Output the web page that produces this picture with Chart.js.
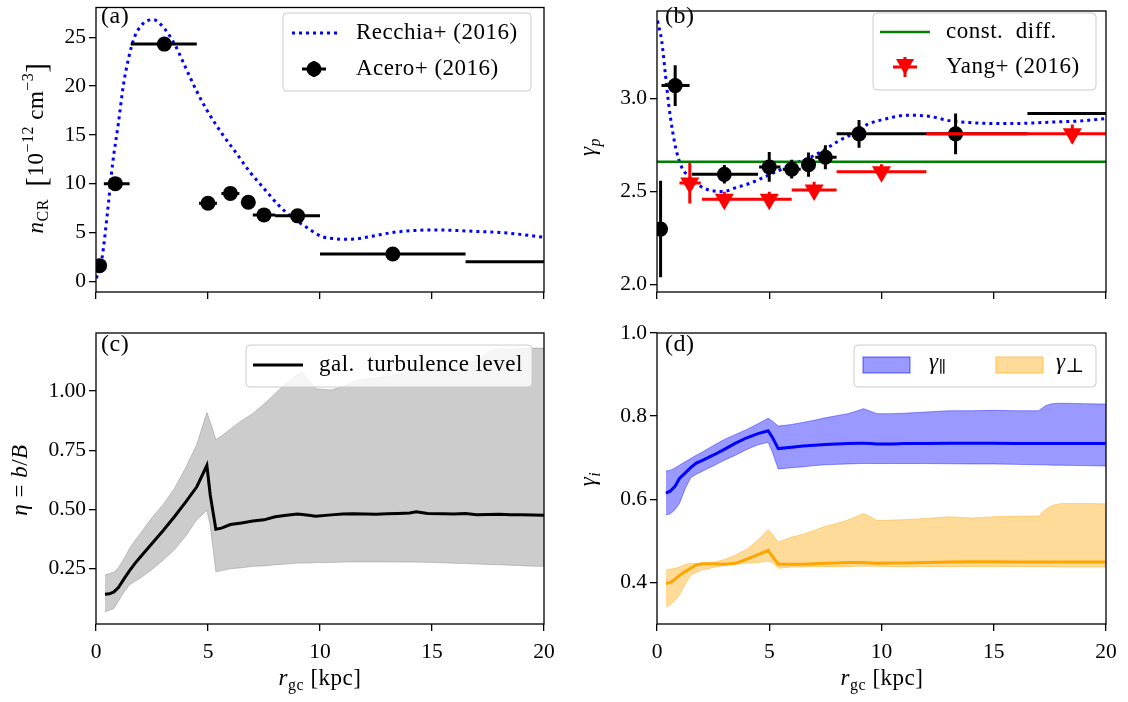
<!DOCTYPE html>
<html>
<head>
<meta charset="utf-8">
<title>CR density, spectral index and turbulence level</title>
<script src="https://cdn.jsdelivr.net/npm/chart.js@4.4.1/dist/chart.umd.min.js"></script>
<style>
  html, body { margin: 0; padding: 0; background: #fff; }
  #page { position: relative; width: 1128px; height: 702px; overflow: hidden; }
  #page canvas { position: absolute; }
</style>
</head>
<body>
<div id="page">
  <canvas id="panelA" width="564" height="320" style="left:0;top:0;width:564px;height:320px"></canvas>
  <canvas id="panelB" width="564" height="320" style="left:564px;top:0;width:564px;height:320px"></canvas>
  <canvas id="panelC" width="564" height="382" style="left:0;top:320px;width:564px;height:382px"></canvas>
  <canvas id="panelD" width="564" height="382" style="left:564px;top:320px;width:564px;height:382px"></canvas>
</div>
<script>
// ---- values ----
const xTicks = [0, 5, 10, 15, 20];

// (a) CR density [1e-12 cm^-3]
const recchiaR = [0.02, 0.27, 0.5, 0.75, 1.0, 1.23, 1.46, 1.7, 2.1, 2.55, 3.05, 3.53, 4.0, 4.49, 4.96, 5.6, 6.24, 6.87, 7.5, 8.15, 8.78, 9.42, 10.06, 10.7, 11.33, 12.3, 13.24, 14.2, 15.15, 16.1, 17.06, 18.0, 18.97, 20.0];
const recchiaN = [0.3, 2.4, 6.8, 12.2, 16.2, 20.2, 22.9, 24.9, 26.4, 26.8, 25.9, 24.2, 21.9, 19.5, 17.5, 15.2, 13.2, 11.2, 9.5, 7.8, 6.5, 5.5, 4.6, 4.35, 4.3, 4.6, 5.0, 5.2, 5.26, 5.2, 5.1, 5.0, 4.8, 4.5];
const aceroR = [0.16, 0.86, 3.05, 5.0, 6.0, 6.8, 7.5, 9.0, 13.25, 22.0];
const aceroN = [1.6, 10.0, 24.3, 8.0, 9.0, 8.1, 6.8, 6.7, 2.8, 2.0];
const aceroRlo = [0.0, 0.35, 1.55, 4.6, 5.6, 6.6, 7.0, 8.0, 10.0, 16.5];
const aceroRhi = [0.3, 1.5, 4.5, 5.4, 6.4, 7.0, 8.0, 10.0, 16.5, 27.5];
const aceroNerr = [0.3, 0.4, 0.6, 0.3, 0.3, 0.3, 0.3, 0.3, 0.2, 0.2];
const ticksA = [0, 5, 10, 15, 20, 25];

// (b) proton spectral index
const recchiaGR = [0.02, 0.21, 0.37, 0.53, 0.7, 0.86, 1.1, 1.42, 1.9, 2.4, 2.96, 3.5, 4.17, 4.82, 5.47, 6.1, 6.76, 7.4, 8.06, 8.7, 9.35, 10.16, 11.13, 12.1, 13.07, 14.05, 15.0, 15.99, 16.96, 17.9, 18.9, 20.0];
const recchiaG = [3.42, 3.31, 3.135, 2.96, 2.82, 2.72, 2.63, 2.58, 2.53, 2.505, 2.50, 2.52, 2.545, 2.58, 2.615, 2.65, 2.68, 2.72, 2.77, 2.81, 2.86, 2.89, 2.91, 2.905, 2.88, 2.87, 2.866, 2.866, 2.87, 2.875, 2.88, 2.893];
const aceroGR = [0.16, 0.81, 3.0, 5.0, 6.0, 6.75, 7.5, 9.0, 13.3, 22.0];
const aceroG = [2.297, 3.07, 2.592, 2.632, 2.62, 2.644, 2.684, 2.81, 2.81, 2.92];
const aceroGRlo = [0.0, 0.2, 1.55, 4.55, 5.6, 6.45, 7.05, 8.0, 10.0, 16.5];
const aceroGRhi = [0.3, 1.45, 4.5, 5.5, 6.4, 7.0, 8.0, 10.0, 16.5, 27.5];
const aceroGerr = [0.26, 0.11, 0.05, 0.08, 0.05, 0.065, 0.065, 0.075, 0.11, 0.05];
const yangR = [1.46, 3.0, 5.0, 7.0, 10.0, 18.5];
const yangG = [2.545, 2.458, 2.458, 2.507, 2.606, 2.81];
const yangRlo = [1.0, 2.0, 4.0, 6.0, 8.0, 12.0];
const yangRhi = [1.95, 4.0, 6.0, 8.0, 12.0, 25.0];
const yangGerr = [0.11, 0.04, 0.04, 0.045, 0.04, 0.05];
const constDiff = 2.66;
const ticksB = [2.0, 2.5, 3.0];

// (c) turbulence level eta = b/B
const etaR = [0.4, 0.6, 0.8, 1.0, 1.25, 1.5, 1.75, 2.0, 2.5, 3.0, 3.5, 4.0, 4.5, 4.95, 5.1, 5.35, 5.6, 6.0, 6.5, 7.0, 7.5, 8.0, 8.5, 9.0, 9.2, 9.5, 9.8, 10.5, 11.0, 11.5, 12.0, 12.5, 13.0, 13.5, 14.0, 14.3, 14.8, 15.5, 16.0, 16.5, 17.0, 17.5, 18.0, 18.5, 19.0, 19.5, 20.0];
const etaMean = [0.140, 0.142, 0.150, 0.168, 0.205, 0.240, 0.272, 0.300, 0.355, 0.410, 0.468, 0.530, 0.595, 0.685, 0.560, 0.415, 0.420, 0.435, 0.442, 0.450, 0.455, 0.468, 0.474, 0.480, 0.478, 0.474, 0.470, 0.476, 0.480, 0.481, 0.480, 0.479, 0.481, 0.482, 0.484, 0.489, 0.482, 0.481, 0.480, 0.482, 0.477, 0.478, 0.479, 0.477, 0.477, 0.475, 0.474];
const etaHi = [0.220, 0.228, 0.234, 0.252, 0.290, 0.335, 0.369, 0.400, 0.465, 0.520, 0.588, 0.675, 0.775, 0.910, 0.870, 0.795, 0.810, 0.840, 0.875, 0.905, 0.945, 0.990, 1.035, 1.070, 1.082, 1.045, 1.010, 1.005, 1.018, 1.040, 1.050, 1.055, 1.062, 1.070, 1.080, 1.085, 1.095, 1.100, 1.108, 1.118, 1.130, 1.165, 1.180, 1.176, 1.180, 1.182, 1.182];
const etaLo = [0.066, 0.072, 0.080, 0.110, 0.150, 0.180, 0.195, 0.210, 0.245, 0.285, 0.328, 0.385, 0.455, 0.495, 0.430, 0.235, 0.240, 0.248, 0.252, 0.258, 0.260, 0.265, 0.268, 0.272, 0.272, 0.272, 0.274, 0.274, 0.276, 0.277, 0.277, 0.277, 0.277, 0.276, 0.276, 0.276, 0.275, 0.273, 0.271, 0.270, 0.268, 0.266, 0.265, 0.263, 0.261, 0.259, 0.258];
const ticksC = [0.25, 0.5, 0.75, 1.0];

// (d) gamma_parallel / gamma_perp
const gamR = [0.4, 0.6, 0.8, 1.0, 1.25, 1.5, 1.75, 2.0, 2.5, 3.0, 3.5, 4.0, 4.5, 4.95, 5.15, 5.4, 6.0, 6.5, 7.0, 7.5, 8.0, 8.5, 9.0, 9.2, 9.5, 9.8, 10.5, 11.0, 12.0, 13.0, 14.0, 15.0, 16.0, 17.0, 17.3, 17.6, 18.0, 19.0, 20.0];
const parMean = [0.615, 0.620, 0.631, 0.650, 0.663, 0.676, 0.687, 0.693, 0.706, 0.720, 0.735, 0.748, 0.758, 0.765, 0.748, 0.722, 0.725, 0.728, 0.730, 0.732, 0.733, 0.734, 0.735, 0.735, 0.734, 0.733, 0.733, 0.734, 0.734, 0.735, 0.735, 0.735, 0.734, 0.734, 0.734, 0.734, 0.734, 0.734, 0.734];
const parHi = [0.668, 0.670, 0.675, 0.682, 0.690, 0.698, 0.706, 0.713, 0.729, 0.744, 0.756, 0.768, 0.782, 0.795, 0.788, 0.776, 0.780, 0.785, 0.790, 0.796, 0.801, 0.806, 0.814, 0.818, 0.812, 0.806, 0.806, 0.807, 0.810, 0.813, 0.813, 0.814, 0.813, 0.813, 0.825, 0.830, 0.831, 0.830, 0.829];
const parLo = [0.563, 0.565, 0.575, 0.590, 0.625, 0.652, 0.660, 0.667, 0.680, 0.694, 0.706, 0.720, 0.731, 0.737, 0.712, 0.673, 0.676, 0.678, 0.681, 0.683, 0.684, 0.685, 0.686, 0.686, 0.686, 0.686, 0.686, 0.686, 0.686, 0.6855, 0.685, 0.685, 0.684, 0.683, 0.683, 0.682, 0.682, 0.681, 0.680];
const perpMean = [0.397, 0.400, 0.408, 0.417, 0.426, 0.434, 0.442, 0.445, 0.445, 0.444, 0.446, 0.456, 0.467, 0.477, 0.462, 0.444, 0.444, 0.444, 0.445, 0.446, 0.447, 0.448, 0.448, 0.448, 0.447, 0.446, 0.447, 0.447, 0.448, 0.449, 0.450, 0.450, 0.449, 0.449, 0.449, 0.449, 0.449, 0.449, 0.449];
const perpHi = [0.430, 0.432, 0.434, 0.437, 0.443, 0.446, 0.446, 0.446, 0.448, 0.455, 0.466, 0.480, 0.502, 0.527, 0.515, 0.497, 0.509, 0.516, 0.525, 0.535, 0.542, 0.550, 0.561, 0.566, 0.558, 0.549, 0.550, 0.551, 0.554, 0.558, 0.555, 0.558, 0.559, 0.560, 0.575, 0.585, 0.590, 0.590, 0.589];
const perpLo = [0.342, 0.346, 0.357, 0.370, 0.395, 0.418, 0.424, 0.430, 0.436, 0.441, 0.444, 0.446, 0.448, 0.451, 0.448, 0.434, 0.437, 0.437, 0.438, 0.438, 0.438, 0.438, 0.439, 0.439, 0.439, 0.439, 0.438, 0.438, 0.438, 0.438, 0.438, 0.438, 0.438, 0.438, 0.438, 0.438, 0.437, 0.437, 0.437];
const ticksD = [0.4, 0.6, 0.8, 1.0];

// ---- drawing helpers ----
const SERIF = "'Liberation Serif', 'DejaVu Serif', serif";
const FS_TICK = 21.5;   // tick labels
const FS = 23;          // labels, legends
const SUB = 16;
Chart.defaults.font.family = SERIF;
Chart.defaults.font.size = FS_TICK;
Chart.defaults.color = '#000';

const BLUE = '#0000ff', RED = '#ff0000', GREEN = '#008000';
const BLUE_BAND = 'rgba(0,0,255,0.4)', ORANGE_BAND = 'rgba(255,165,0,0.4)', GRAY_BAND = 'rgba(128,128,128,0.4)';

const pts = (xs, ys) => xs.map((x, i) => ({ x: x, y: ys[i] }));

function setFont(ctx, seg) {
  ctx.font = (seg.i ? 'italic ' : '') + (seg.s || FS) + 'px ' + SERIF;
}

// text with sub/superscripts, centred on (x, y) baseline, optionally rotated
function drawRich(ctx, segs, x, y, rotate) {
  ctx.save();
  ctx.translate(x, y);
  if (rotate) ctx.rotate(-Math.PI / 2);
  ctx.fillStyle = '#000';
  ctx.textBaseline = 'alphabetic';
  ctx.textAlign = 'left';
  ctx.letterSpacing = '0.5px';
  let total = 0;
  const widths = segs.map(s => { setFont(ctx, s); const w = ctx.measureText(s.t).width; total += w; return w; });
  let cx = -total / 2;
  segs.forEach((s, k) => { setFont(ctx, s); ctx.fillText(s.t, cx, s.dy || 0); cx += widths[k]; });
  ctx.restore();
}

function drawRichLeft(ctx, segs, x, y) {
  ctx.save();
  ctx.fillStyle = '#000';
  ctx.textBaseline = 'middle';
  ctx.textAlign = 'left';
  ctx.letterSpacing = '0.5px';
  let cx = x;
  segs.forEach(s => { setFont(ctx, s); ctx.fillText(s.t, cx, y + (s.dy || 0)); cx += ctx.measureText(s.t).width; });
  ctx.restore();
}

function legendBox(ctx, x, y, w, h) {
  const r = 4;
  ctx.save();
  ctx.beginPath();
  ctx.moveTo(x + r, y);
  ctx.arcTo(x + w, y, x + w, y + h, r);
  ctx.arcTo(x + w, y + h, x, y + h, r);
  ctx.arcTo(x, y + h, x, y, r);
  ctx.arcTo(x, y, x + w, y, r);
  ctx.closePath();
  ctx.fillStyle = 'rgba(255,255,255,0.8)';
  ctx.fill();
  ctx.strokeStyle = '#cccccc';
  ctx.lineWidth = 1;
  ctx.stroke();
  ctx.restore();
}

function crossMarker(ctx, x, y, hw, vh, color) {
  ctx.save();
  ctx.strokeStyle = color;
  ctx.lineWidth = 3;
  ctx.beginPath();
  ctx.moveTo(x - hw, y); ctx.lineTo(x + hw, y);
  ctx.moveTo(x, y - vh); ctx.lineTo(x, y + vh);
  ctx.stroke();
  ctx.restore();
}

function errorBarPlugin(bars) {
  return {
    id: 'errorBars',
    beforeDatasetDraw(chart, args) {
      const spec = bars.find(b => b.ds === args.index);
      if (!spec) return;
      const { ctx, chartArea: a } = chart;
      const xs = chart.scales.x, ys = chart.scales.y;
      const data = chart.data.datasets[args.index].data;
      ctx.save();
      ctx.beginPath();
      ctx.rect(a.left, a.top, a.right - a.left, a.bottom - a.top);
      ctx.clip();
      ctx.strokeStyle = spec.color;
      ctx.lineWidth = 3;
      ctx.beginPath();
      data.forEach((p, i) => {
        const px = xs.getPixelForValue(p.x), py = ys.getPixelForValue(p.y);
        ctx.moveTo(xs.getPixelForValue(spec.xlo[i]), py);
        ctx.lineTo(xs.getPixelForValue(spec.xhi[i]), py);
        ctx.moveTo(px, ys.getPixelForValue(p.y - spec.err[i]));
        ctx.lineTo(px, ys.getPixelForValue(p.y + spec.err[i]));
      });
      ctx.stroke();
      ctx.restore();
    }
  };
}

function decorPlugin(drawExtra) {
  return {
    id: 'decor',
    afterDraw(chart) {
      const { ctx, chartArea: a } = chart;
      ctx.save();
      ctx.strokeStyle = '#000';
      ctx.lineWidth = 1.3;
      ctx.strokeRect(a.left, a.top, a.right - a.left, a.bottom - a.top);
      ctx.restore();
      drawExtra(ctx, a);
    }
  };
}

function makePanel(id, cfg) {
  const canvas = document.getElementById(id);
  const W = canvas.width, H = canvas.height, ar = cfg.area;
  const grid = { drawOnChartArea: false, drawTicks: true, tickLength: 7, color: '#000', lineWidth: 1.3 };
  return new Chart(canvas, {
    type: 'scatter',
    data: { datasets: cfg.datasets },
    options: {
      responsive: false,
      animation: false,
      events: [],
      layout: { padding: { top: ar.t, right: W - ar.r, left: 0, bottom: 0 } },
      plugins: { legend: { display: false }, tooltip: { enabled: false } },
      scales: {
        x: {
          type: 'linear', min: 0, max: 20,
          afterBuildTicks: s => { s.ticks = xTicks.map(v => ({ value: v })); },
          afterFit: s => { s.height = H - ar.b; s.paddingLeft = 0; s.paddingRight = 0; },
          ticks: { display: cfg.xLabels, color: '#000', padding: 8, maxRotation: 0, callback: v => String(v) },
          grid: grid,
          border: { display: false }
        },
        y: {
          type: 'linear', min: cfg.ymin, max: cfg.ymax,
          afterBuildTicks: s => { s.ticks = cfg.yTicks.map(v => ({ value: v })); },
          afterFit: s => { s.width = ar.l; s.paddingTop = 0; s.paddingBottom = 0; },
          ticks: { color: '#000', padding: 3, callback: v => Number(v).toFixed(cfg.yDec) },
          grid: grid,
          border: { display: false }
        }
      }
    },
    plugins: [errorBarPlugin(cfg.bars || []), decorPlugin(cfg.extra)]
  });
}

const xLabelSegs = [{ t: 'r', i: 1 }, { t: 'gc', s: SUB, dy: 5 }, { t: ' [kpc]' }];

// (a)
makePanel('panelA', {
  area: { l: 96, t: 2, r: 544, b: 292 },
  ymin: -1.1, ymax: 28.05, yTicks: ticksA, yDec: 0, xLabels: false,
  datasets: [
    { data: pts(aceroR, aceroN), showLine: false, pointRadius: 7.5, pointBackgroundColor: '#000', pointBorderWidth: 0, order: 0 },
    { data: pts(recchiaR, recchiaN), showLine: true, pointRadius: 0, borderColor: BLUE, borderWidth: 3,
      borderDash: [3, 4], cubicInterpolationMode: 'monotone', order: 1 }
  ],
  bars: [{ ds: 0, xlo: aceroRlo, xhi: aceroRhi, err: aceroNerr, color: '#000' }],
  extra(ctx) {
    drawRichLeft(ctx, [{ t: '(a)', s: 24 }], 101, 17);
    drawRich(ctx, [{ t: 'n', i: 1 }, { t: 'CR', s: SUB, dy: 5 }, { t: '  ' }, { t: '[', s: 29, dy: 3 }, { t: '10' },
      { t: '\u221212', s: SUB, dy: -10 }, { t: ' cm' }, { t: '\u22123', s: SUB, dy: -10 }, { t: ']', s: 29, dy: 3 }], 43, 148, true);
    legendBox(ctx, 283, 13, 248, 78);
    ctx.save();
    ctx.strokeStyle = BLUE; ctx.lineWidth = 3; ctx.setLineDash([3, 4]);
    ctx.beginPath(); ctx.moveTo(292, 33); ctx.lineTo(337, 33); ctx.stroke();
    ctx.restore();
    drawRichLeft(ctx, [{ t: 'Recchia+ (2016)' }], 356, 33);
    crossMarker(ctx, 314, 69, 12, 8, '#000');
    ctx.beginPath(); ctx.arc(314, 69, 7.5, 0, Math.PI * 2); ctx.fillStyle = '#000'; ctx.fill();
    drawRichLeft(ctx, [{ t: 'Acero+ (2016)' }], 356, 69);
  }
});

// (b)
makePanel('panelB', {
  area: { l: 93, t: 2, r: 542, b: 292 },
  ymin: 1.958, ymax: 3.472, yTicks: ticksB, yDec: 1, xLabels: false,
  datasets: [
    { data: pts(yangR, yangG), showLine: false, pointStyle: 'triangle', pointRotation: 180, pointRadius: 11,
      pointBackgroundColor: RED, pointBorderWidth: 0, order: 0 },
    { data: pts(aceroGR, aceroG), showLine: false, pointRadius: 7.5, pointBackgroundColor: '#000', pointBorderWidth: 0, order: 1 },
    { data: [{ x: 0, y: constDiff }, { x: 20, y: constDiff }], showLine: true, pointRadius: 0, borderColor: GREEN, borderWidth: 2.6, order: 2 },
    { data: pts(recchiaGR, recchiaG), showLine: true, pointRadius: 0, borderColor: BLUE, borderWidth: 3,
      borderDash: [3, 4], cubicInterpolationMode: 'monotone', order: 3 }
  ],
  bars: [
    { ds: 0, xlo: yangRlo, xhi: yangRhi, err: yangGerr, color: RED },
    { ds: 1, xlo: aceroGRlo, xhi: aceroGRhi, err: aceroGerr, color: '#000' }
  ],
  extra(ctx) {
    drawRichLeft(ctx, [{ t: '(b)', s: 24 }], 101, 17);
    drawRich(ctx, [{ t: '\u03b3', i: 1 }, { t: 'p', i: 1, s: SUB, dy: 5 }], 31, 147, true);
    legendBox(ctx, 309, 13, 223, 77);
    ctx.save();
    ctx.strokeStyle = GREEN; ctx.lineWidth = 2.6;
    ctx.beginPath(); ctx.moveTo(316, 32); ctx.lineTo(366, 32); ctx.stroke();
    ctx.restore();
    drawRichLeft(ctx, [{ t: 'const.  diff.' }], 382, 32);
    crossMarker(ctx, 341, 67, 12, 10, RED);
    ctx.save();
    ctx.fillStyle = RED;
    ctx.beginPath(); ctx.moveTo(332, 59); ctx.lineTo(350, 59); ctx.lineTo(341, 75); ctx.closePath(); ctx.fill();
    ctx.restore();
    drawRichLeft(ctx, [{ t: 'Yang+ (2016)' }], 382, 67);
  }
});

// (c)
makePanel('panelC', {
  area: { l: 96, t: 13, r: 544, b: 304 },
  ymin: 0.014, ymax: 1.246, yTicks: ticksC, yDec: 2, xLabels: true,
  datasets: [
    { data: pts(etaR, etaHi), showLine: true, pointRadius: 0, borderColor: GRAY_BAND, borderWidth: 1,
      backgroundColor: GRAY_BAND, fill: '+1', order: 2 },
    { data: pts(etaR, etaLo), showLine: true, pointRadius: 0, borderColor: GRAY_BAND, borderWidth: 1, order: 2 },
    { data: pts(etaR, etaMean), showLine: true, pointRadius: 0, borderColor: '#000', borderWidth: 3, order: 0 }
  ],
  extra(ctx) {
    drawRichLeft(ctx, [{ t: '(c)', s: 24 }], 101, 25);
    drawRich(ctx, [{ t: '\u03b7', i: 1 }, { t: ' = ' }, { t: 'b', i: 1 }, { t: '/' }, { t: 'B', i: 1 }], 27, 160, true);
    drawRich(ctx, xLabelSegs, 320, 365, false);
    legendBox(ctx, 246, 25, 286, 42);
    ctx.save();
    ctx.strokeStyle = '#000'; ctx.lineWidth = 3;
    ctx.beginPath(); ctx.moveTo(253, 45); ctx.lineTo(303, 45); ctx.stroke();
    ctx.restore();
    drawRichLeft(ctx, [{ t: 'gal.  turbulence level' }], 319, 45);
  }
});

// (d)
makePanel('panelD', {
  area: { l: 93, t: 13, r: 542, b: 304 },
  ymin: 0.30, ymax: 1.0, yTicks: ticksD, yDec: 1, xLabels: true,
  datasets: [
    { data: pts(gamR, parHi), showLine: true, pointRadius: 0, borderColor: BLUE_BAND, borderWidth: 1,
      backgroundColor: BLUE_BAND, fill: '+1', order: 5 },
    { data: pts(gamR, parLo), showLine: true, pointRadius: 0, borderColor: BLUE_BAND, borderWidth: 1, order: 5 },
    { data: pts(gamR, perpHi), showLine: true, pointRadius: 0, borderColor: ORANGE_BAND, borderWidth: 1,
      backgroundColor: ORANGE_BAND, fill: '+1', order: 4 },
    { data: pts(gamR, perpLo), showLine: true, pointRadius: 0, borderColor: ORANGE_BAND, borderWidth: 1, order: 4 },
    { data: pts(gamR, parMean), showLine: true, pointRadius: 0, borderColor: BLUE, borderWidth: 3, order: 1 },
    { data: pts(gamR, perpMean), showLine: true, pointRadius: 0, borderColor: '#ffa500', borderWidth: 3, order: 0 }
  ],
  extra(ctx) {
    drawRichLeft(ctx, [{ t: '(d)', s: 24 }], 101, 25);
    drawRich(ctx, [{ t: '\u03b3', i: 1 }, { t: 'i', i: 1, s: SUB, dy: 5 }], 31, 159, true);
    drawRich(ctx, xLabelSegs, 318, 365, false);
    legendBox(ctx, 290, 25, 242, 42);
    ctx.save();
    ctx.lineWidth = 1.5;
    ctx.fillStyle = BLUE_BAND; ctx.strokeStyle = BLUE_BAND;
    ctx.fillRect(299, 37, 47, 16); ctx.strokeRect(299, 37, 47, 16);
    ctx.fillStyle = ORANGE_BAND; ctx.strokeStyle = ORANGE_BAND;
    ctx.fillRect(432, 37, 47, 16); ctx.strokeRect(432, 37, 47, 16);
    ctx.restore();
    drawRichLeft(ctx, [{ t: '\u03b3', i: 1 }, { t: '\u2225', s: SUB, dy: 5 }], 365, 43);
    drawRichLeft(ctx, [{ t: '\u03b3', i: 1 }, { t: '\u22a5', s: 20, dy: 4 }], 492, 43);
  }
});
</script>
</body>
</html>
